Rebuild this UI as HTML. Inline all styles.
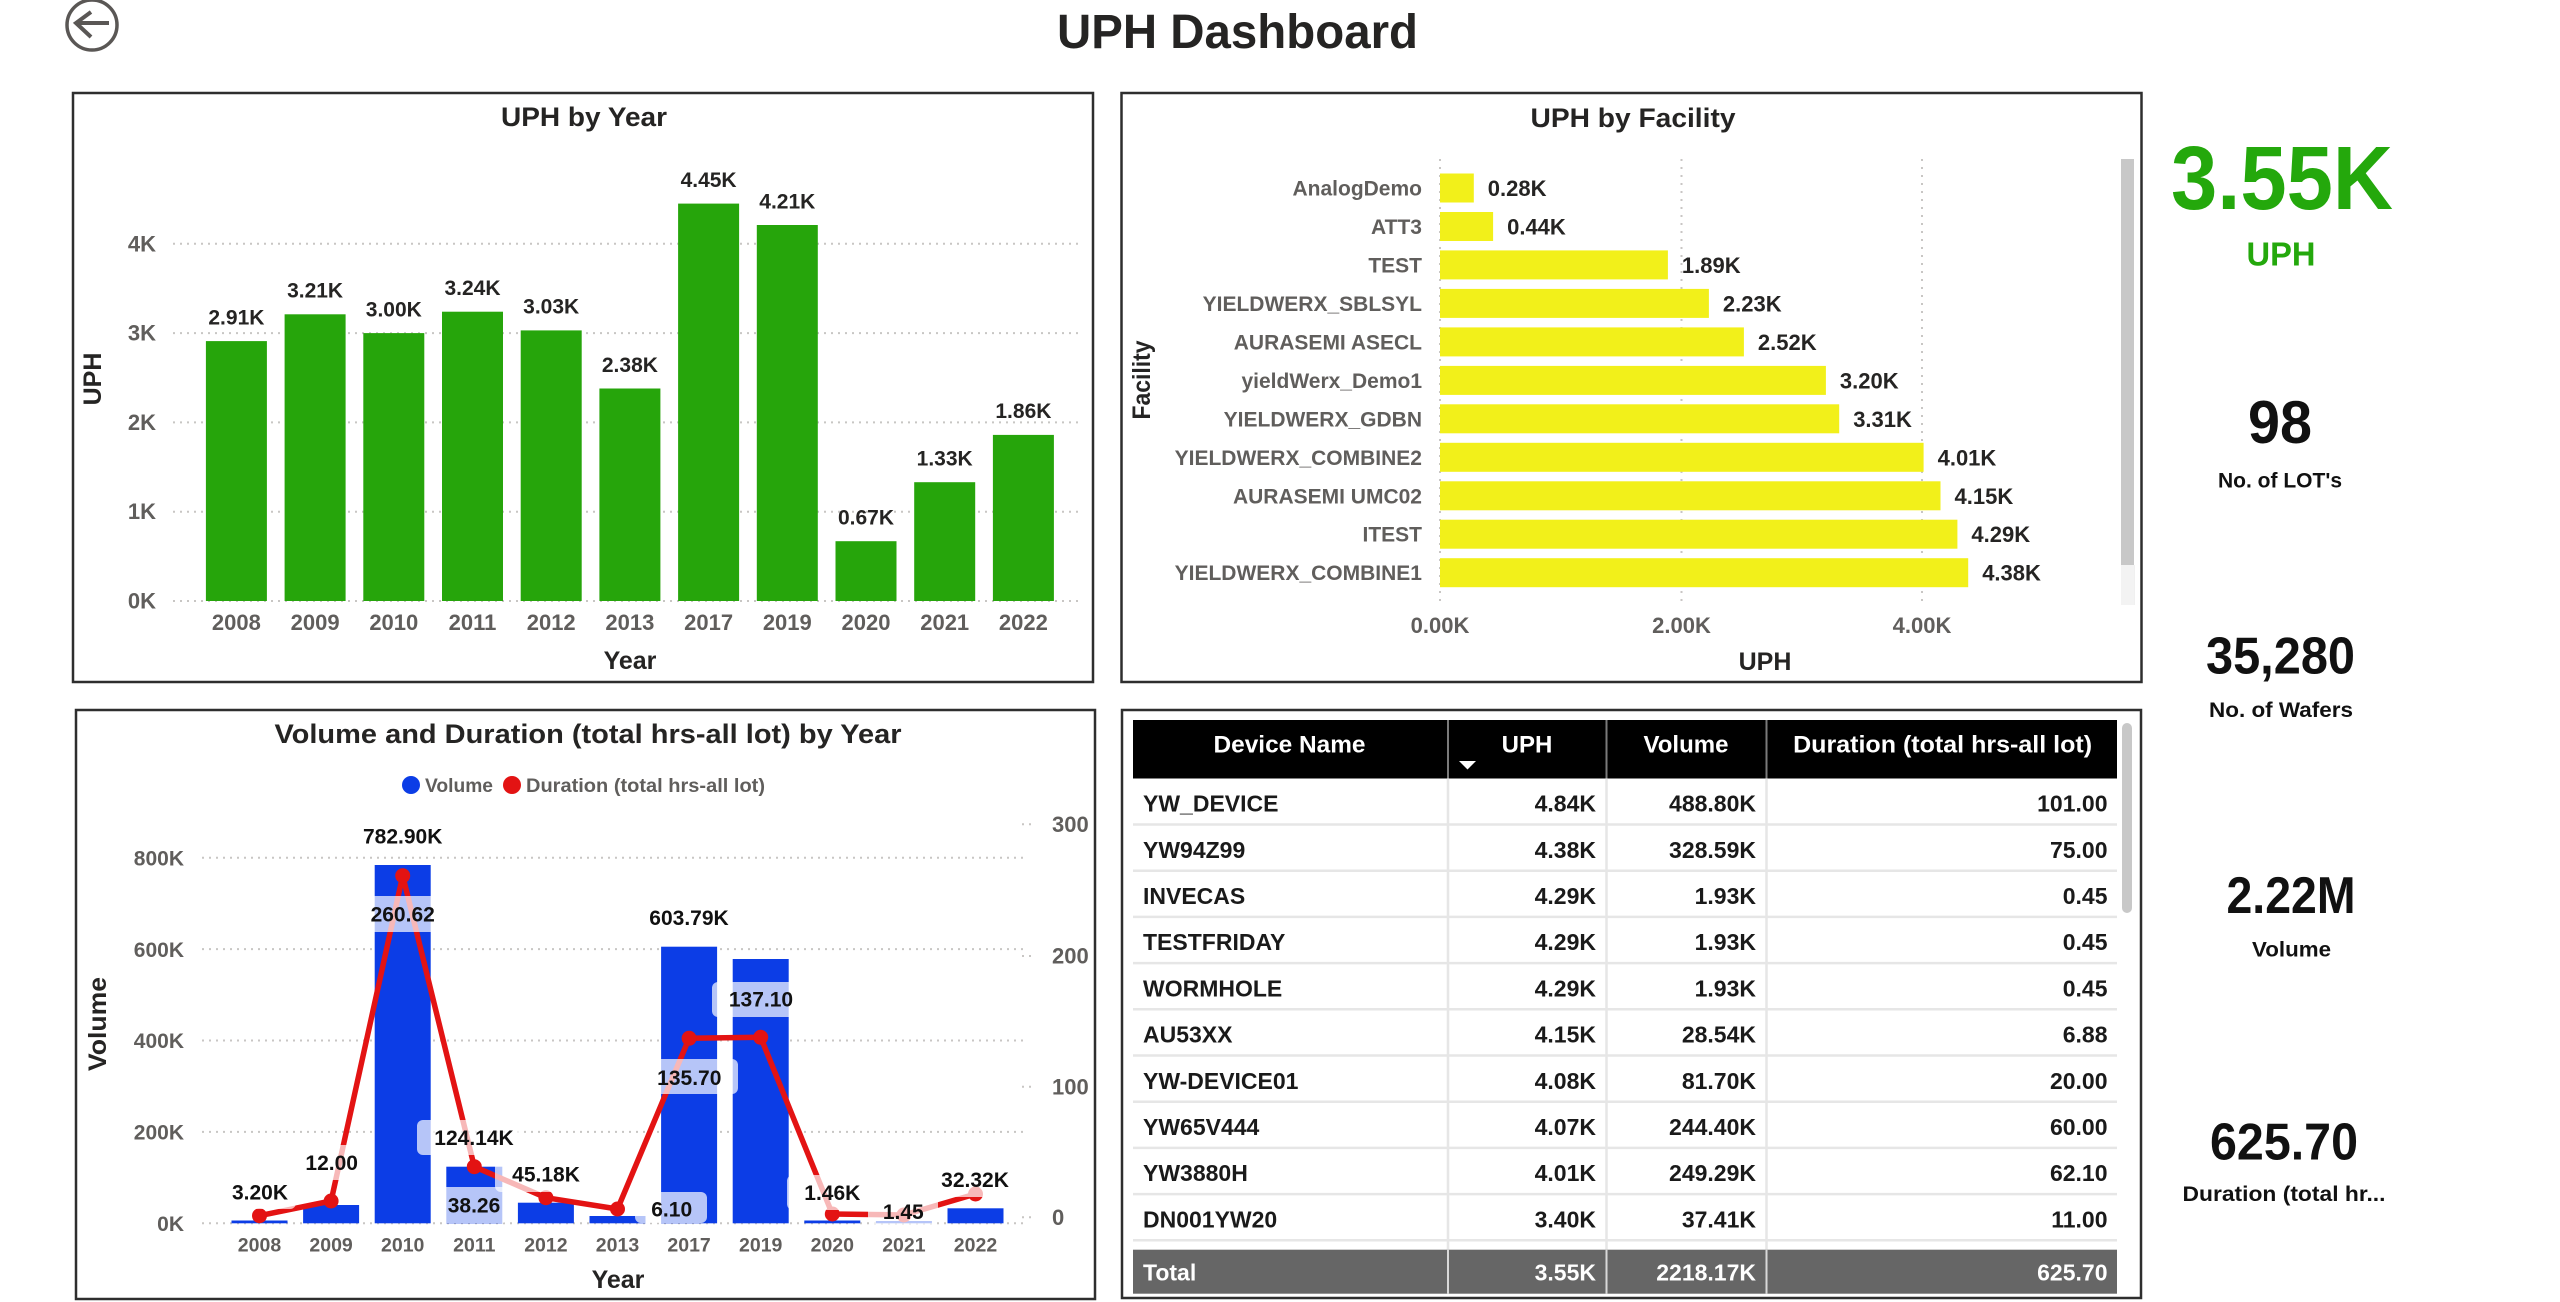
<!DOCTYPE html>
<html><head><meta charset="utf-8"><style>
html,body{margin:0;padding:0;background:#fff;width:2560px;height:1302px;overflow:hidden}
svg{display:block;font-family:"Liberation Sans",sans-serif;font-weight:bold}
.tk{fill:#605e5c;font-size:22px}
.vl{fill:#252423;font-size:21px}
.ttl{fill:#252423;font-size:27px}
.ax{fill:#252423;font-size:25px}
.grid{stroke:#c8c6c4;stroke-width:2;stroke-dasharray:2 5}
.pn{fill:none;stroke:#2e2e2e;stroke-width:2.5}
.th{fill:#fff;font-size:24px}
.tb{fill:#1a1a1a;font-size:23px}
.tt{fill:#fff;font-size:23px}
.kl{fill:#111;font-size:21px}
</style></head><body>
<svg width="2560" height="1302" viewBox="0 0 2560 1302" xmlns="http://www.w3.org/2000/svg">
<!-- back icon -->
<circle cx="92" cy="25" r="25" fill="none" stroke="#5a5755" stroke-width="3.5"/>
<line x1="76" y1="23" x2="109" y2="23" stroke="#5a5755" stroke-width="4"/>
<polyline points="91,12 76,23 91,37" fill="none" stroke="#5a5755" stroke-width="4"/>
<text x="1057" y="48" style="font-size:48px;fill:#252423" textLength="361" lengthAdjust="spacingAndGlyphs">UPH Dashboard</text>

<!-- Panels -->
<rect class="pn" x="73" y="93" width="1020" height="589"/>
<rect class="pn" x="1121.5" y="93" width="1020" height="589"/>
<rect class="pn" x="76" y="710" width="1019" height="589"/>
<rect class="pn" x="1122" y="710" width="1019" height="588"/>

<!-- ===== Panel 1 : UPH by Year ===== -->
<text class="ttl" x="584" y="126" text-anchor="middle" textLength="166" lengthAdjust="spacingAndGlyphs">UPH by Year</text>
<g>
<line class="grid" x1="173" y1="601" x2="1080" y2="601"/>
<line class="grid" x1="173" y1="511.7" x2="1080" y2="511.7"/>
<line class="grid" x1="173" y1="422.4" x2="1080" y2="422.4"/>
<line class="grid" x1="173" y1="333.1" x2="1080" y2="333.1"/>
<line class="grid" x1="173" y1="243.8" x2="1080" y2="243.8"/>
</g>
<g class="tk" text-anchor="end">
<text x="156" y="608.5">0K</text>
<text x="156" y="519.2">1K</text>
<text x="156" y="429.9">2K</text>
<text x="156" y="340.6">3K</text>
<text x="156" y="251.3">4K</text>
</g>
<g fill="#26a50b">
<rect x="205.9" y="341.1" width="61" height="259.9"/>
<rect x="284.6" y="314.3" width="61" height="286.7"/>
<rect x="363.3" y="333.1" width="61" height="267.9"/>
<rect x="442" y="311.7" width="61" height="289.3"/>
<rect x="520.7" y="330.4" width="61" height="270.6"/>
<rect x="599.4" y="388.5" width="61" height="212.5"/>
<rect x="678.1" y="203.6" width="61" height="397.4"/>
<rect x="756.8" y="225" width="61" height="376"/>
<rect x="835.5" y="541.2" width="61" height="59.8"/>
<rect x="914.2" y="482.2" width="61" height="118.8"/>
<rect x="992.9" y="434.9" width="61" height="166.1"/>
</g>
<g class="vl" text-anchor="middle">
<text x="236.4" y="324.4">2.91K</text>
<text x="315.1" y="297.6">3.21K</text>
<text x="393.8" y="316.4">3.00K</text>
<text x="472.5" y="295">3.24K</text>
<text x="551.2" y="313.7">3.03K</text>
<text x="629.9" y="371.8">2.38K</text>
<text x="708.6" y="186.9">4.45K</text>
<text x="787.3" y="208.3">4.21K</text>
<text x="866" y="524.5">0.67K</text>
<text x="944.7" y="465.5">1.33K</text>
<text x="1023.4" y="418.2">1.86K</text>
</g>
<g class="tk" text-anchor="middle">
<text x="236.4" y="630">2008</text>
<text x="315.1" y="630">2009</text>
<text x="393.8" y="630">2010</text>
<text x="472.5" y="630">2011</text>
<text x="551.2" y="630">2012</text>
<text x="629.9" y="630">2013</text>
<text x="708.6" y="630">2017</text>
<text x="787.3" y="630">2019</text>
<text x="866" y="630">2020</text>
<text x="944.7" y="630">2021</text>
<text x="1023.4" y="630">2022</text>
</g>
<text class="ax" x="630" y="669" text-anchor="middle">Year</text>
<text class="ax" transform="translate(101,379) rotate(-90)" text-anchor="middle">UPH</text>

<!-- ===== Panel 2 : UPH by Facility ===== -->
<text class="ttl" x="1633" y="127" text-anchor="middle" textLength="205" lengthAdjust="spacingAndGlyphs">UPH by Facility</text>
<line class="grid" x1="1440" y1="159" x2="1440" y2="606" style="stroke-dasharray:2 6"/>
<line class="grid" x1="1681.5" y1="159" x2="1681.5" y2="606" style="stroke-dasharray:2 6"/>
<line class="grid" x1="1922" y1="159" x2="1922" y2="606" style="stroke-dasharray:2 6"/>
<g fill="#f2f01a">
<rect x="1440" y="173.5" width="33.8" height="29"/>
<rect x="1440" y="212" width="53.1" height="29"/>
<rect x="1440" y="250.4" width="227.9" height="29"/>
<rect x="1440" y="288.9" width="268.9" height="29"/>
<rect x="1440" y="327.4" width="303.9" height="29"/>
<rect x="1440" y="365.9" width="385.9" height="29"/>
<rect x="1440" y="404.3" width="399.2" height="29"/>
<rect x="1440" y="442.8" width="483.6" height="29"/>
<rect x="1440" y="481.3" width="500.5" height="29"/>
<rect x="1440" y="519.7" width="517.4" height="29"/>
<rect x="1440" y="558.2" width="528.2" height="29"/>
</g>
<g class="tk" text-anchor="end" style="font-size:21px">
<text x="1422" y="195.5">AnalogDemo</text>
<text x="1422" y="234">ATT3</text>
<text x="1422" y="272.4">TEST</text>
<text x="1422" y="310.9">YIELDWERX_SBLSYL</text>
<text x="1422" y="349.4">AURASEMI ASECL</text>
<text x="1422" y="387.9">yieldWerx_Demo1</text>
<text x="1422" y="426.3">YIELDWERX_GDBN</text>
<text x="1422" y="464.8">YIELDWERX_COMBINE2</text>
<text x="1422" y="503.3">AURASEMI UMC02</text>
<text x="1422" y="541.7">ITEST</text>
<text x="1422" y="580.2">YIELDWERX_COMBINE1</text>
</g>
<g class="vl" style="font-size:22px">
<text x="1487.8" y="196">0.28K</text>
<text x="1507.1" y="234.5">0.44K</text>
<text x="1681.9" y="272.9">1.89K</text>
<text x="1722.9" y="311.4">2.23K</text>
<text x="1757.9" y="349.9">2.52K</text>
<text x="1839.9" y="388.4">3.20K</text>
<text x="1853.2" y="426.8">3.31K</text>
<text x="1937.6" y="465.3">4.01K</text>
<text x="1954.5" y="503.8">4.15K</text>
<text x="1971.4" y="542.2">4.29K</text>
<text x="1982.2" y="580.7">4.38K</text>
</g>
<g class="tk" text-anchor="middle">
<text x="1440" y="633">0.00K</text>
<text x="1681.5" y="633">2.00K</text>
<text x="1922" y="633">4.00K</text>
</g>
<text class="ax" x="1765" y="670" text-anchor="middle">UPH</text>
<text class="ax" transform="translate(1150,380) rotate(-90)" text-anchor="middle" textLength="79" lengthAdjust="spacingAndGlyphs">Facility</text>
<rect x="2134" y="565" width="1" height="40" fill="#f0f0f0"/>
<rect x="2121" y="565" width="13" height="40" fill="#f3f3f3"/>
<rect x="2121" y="159" width="13" height="406" fill="#c8c8c8"/>

<!-- ===== KPIs ===== -->
<text x="2282" y="209" text-anchor="middle" style="font-size:90px;fill:#24a80c" textLength="222" lengthAdjust="spacingAndGlyphs">3.55K</text>
<text x="2281" y="265.7" text-anchor="middle" style="font-size:33px;fill:#24a80c" textLength="69" lengthAdjust="spacingAndGlyphs">UPH</text>
<text x="2280" y="443" text-anchor="middle" style="font-size:60px;fill:#111" textLength="64" lengthAdjust="spacingAndGlyphs">98</text>
<text class="kl" x="2280" y="487.7" text-anchor="middle" textLength="124" lengthAdjust="spacingAndGlyphs">No. of LOT's</text>
<text x="2280.5" y="673.5" text-anchor="middle" style="font-size:52px;fill:#111" textLength="149" lengthAdjust="spacingAndGlyphs">35,280</text>
<text class="kl" x="2281" y="717" text-anchor="middle" textLength="144" lengthAdjust="spacingAndGlyphs">No. of Wafers</text>
<text x="2291" y="913" text-anchor="middle" style="font-size:52px;fill:#111" textLength="129" lengthAdjust="spacingAndGlyphs">2.22M</text>
<text class="kl" x="2291.5" y="956.5" text-anchor="middle" textLength="79" lengthAdjust="spacingAndGlyphs">Volume</text>
<text x="2284" y="1159.5" text-anchor="middle" style="font-size:52px;fill:#111" textLength="148" lengthAdjust="spacingAndGlyphs">625.70</text>
<text class="kl" x="2284" y="1201" text-anchor="middle" textLength="203" lengthAdjust="spacingAndGlyphs">Duration (total hr...</text>

<!-- ===== Panel 3 : Volume and Duration ===== -->
<text class="ttl" x="588" y="743" text-anchor="middle" textLength="627" lengthAdjust="spacingAndGlyphs">Volume and Duration (total hrs-all lot) by Year</text>
<circle cx="411" cy="785" r="9" fill="#0c3de6"/>
<text x="425" y="792" style="font-size:19px;fill:#605e5c" textLength="68" lengthAdjust="spacingAndGlyphs">Volume</text>
<circle cx="512" cy="785" r="9" fill="#e31313"/>
<text x="526" y="792" style="font-size:19px;fill:#605e5c" textLength="239" lengthAdjust="spacingAndGlyphs">Duration (total hrs-all lot)</text>
<g>
<line class="grid" x1="202" y1="1223.3" x2="1028" y2="1223.3"/>
<line class="grid" x1="202" y1="1131.9" x2="1028" y2="1131.9"/>
<line class="grid" x1="202" y1="1040.5" x2="1028" y2="1040.5"/>
<line class="grid" x1="202" y1="949.1" x2="1028" y2="949.1"/>
<line class="grid" x1="202" y1="857.7" x2="1028" y2="857.7"/>
<line class="grid" x1="1022" y1="1217.3" x2="1036" y2="1217.3"/>
<line class="grid" x1="1022" y1="1086.7" x2="1036" y2="1086.7"/>
<line class="grid" x1="1022" y1="956" x2="1036" y2="956"/>
<line class="grid" x1="1022" y1="824.3" x2="1036" y2="824.3"/>
</g>
<g class="tk" text-anchor="end" style="font-size:21px">
<text x="184" y="1231">0K</text>
<text x="184" y="1139.6">200K</text>
<text x="184" y="1048.2">400K</text>
<text x="184" y="956.8">600K</text>
<text x="184" y="865.4">800K</text>
</g>
<g class="tk">
<text x="1052" y="1225">0</text>
<text x="1052" y="1094.4">100</text>
<text x="1052" y="963.7">200</text>
<text x="1052" y="832">300</text>
</g>
<g fill="#0c3de6">
<rect x="231.5" y="1220.5" width="56" height="2.8"/>
<rect x="303.1" y="1205" width="56" height="18.3"/>
<rect x="374.7" y="865" width="56" height="358.3"/>
<rect x="446.3" y="1166.7" width="56" height="56.6"/>
<rect x="517.9" y="1202.7" width="56" height="20.6"/>
<rect x="589.5" y="1216" width="56" height="7.3"/>
<rect x="661.1" y="946.7" width="56" height="276.6"/>
<rect x="732.7" y="959" width="56" height="264.3"/>
<rect x="804.3" y="1220.5" width="56" height="2.8"/>
<rect x="875.9" y="1221" width="56" height="2.3"/>
<rect x="947.5" y="1208.3" width="56" height="15"/>
</g>
<polyline points="259.5,1215.7 331.1,1201 402.7,875.7 474.3,1166.7 545.9,1197.7 617.5,1209 689.1,1038.3 760.7,1037.3 832.3,1214 903.9,1215 975.5,1194" fill="none" stroke="#e31313" stroke-width="5.5" stroke-linejoin="round"/>
<g fill="#e31313">
<circle cx="259.5" cy="1215.7" r="7.5"/>
<circle cx="331.1" cy="1201" r="7.5"/>
<circle cx="402.7" cy="875.7" r="7.5"/>
<circle cx="474.3" cy="1166.7" r="7.5"/>
<circle cx="545.9" cy="1197.7" r="7.5"/>
<circle cx="617.5" cy="1209" r="7.5"/>
<circle cx="689.1" cy="1038.3" r="7.5"/>
<circle cx="760.7" cy="1037.3" r="7.5"/>
<circle cx="832.3" cy="1214" r="7.5"/>
<circle cx="903.9" cy="1215" r="7.5"/>
<circle cx="975.5" cy="1194" r="7.5"/>
</g>
<g fill="#fff" fill-opacity="0.7">
<rect x="224" y="1175" width="72" height="34" rx="6"/>
<rect x="300" y="1145" width="64" height="35" rx="6"/>
<rect x="360" y="896" width="86" height="36" rx="6"/>
<rect x="417" y="1120" width="106" height="35" rx="6"/>
<rect x="440" y="1187" width="68" height="36" rx="6"/>
<rect x="495" y="1157" width="102" height="35" rx="6"/>
<rect x="635" y="1192" width="72" height="31" rx="6"/>
<rect x="640" y="1059" width="98" height="35" rx="6"/>
<rect x="712" y="982" width="98" height="35" rx="6"/>
<rect x="787" y="1175" width="91" height="35" rx="6"/>
<rect x="868" y="1194" width="70" height="30" rx="6"/>
<rect x="930" y="1162" width="90" height="35" rx="6"/>
</g>
<g class="vl" text-anchor="middle" style="fill:#111">
<text x="260" y="1199.5">3.20K</text>
<text x="331.7" y="1170.2">12.00</text>
<text x="402.7" y="843.5">782.90K</text>
<text x="402.7" y="921.5">260.62</text>
<text x="474" y="1145.2">124.14K</text>
<text x="474" y="1212.5">38.26</text>
<text x="546" y="1181.5">45.18K</text>
<text x="671.7" y="1216.5">6.10</text>
<text x="689" y="925.2">603.79K</text>
<text x="689.3" y="1084.8">135.70</text>
<text x="761" y="1006.5">137.10</text>
<text x="832.3" y="1199.8">1.46K</text>
<text x="903.3" y="1219.2">1.45</text>
<text x="975" y="1186.8">32.32K</text>
</g>
<g class="tk" text-anchor="middle" style="font-size:19.5px">
<text x="259.5" y="1251.5">2008</text>
<text x="331.1" y="1251.5">2009</text>
<text x="402.7" y="1251.5">2010</text>
<text x="474.3" y="1251.5">2011</text>
<text x="545.9" y="1251.5">2012</text>
<text x="617.5" y="1251.5">2013</text>
<text x="689.1" y="1251.5">2017</text>
<text x="760.7" y="1251.5">2019</text>
<text x="832.3" y="1251.5">2020</text>
<text x="903.9" y="1251.5">2021</text>
<text x="975.5" y="1251.5">2022</text>
</g>
<text class="ax" x="618" y="1288" text-anchor="middle">Year</text>
<text class="ax" transform="translate(106,1024) rotate(-90)" text-anchor="middle" textLength="94" lengthAdjust="spacingAndGlyphs">Volume</text>

<!-- ===== Panel 4 : Table ===== -->
<rect x="1133" y="720" width="984" height="58.5" fill="#000"/>
<g stroke="#7a7a7a" stroke-width="2">
<line x1="1448" y1="720" x2="1448" y2="778.5"/>
<line x1="1606.5" y1="720" x2="1606.5" y2="778.5"/>
<line x1="1766.5" y1="720" x2="1766.5" y2="778.5"/>
</g>
<g class="th" text-anchor="middle">
<text x="1289.5" y="752.5" textLength="152" lengthAdjust="spacingAndGlyphs">Device Name</text>
<text x="1527" y="752.5">UPH</text>
<text x="1686" y="752.5">Volume</text>
<text x="1942.6" y="752.5" textLength="299" lengthAdjust="spacingAndGlyphs">Duration (total hrs-all lot)</text>
</g>
<polygon points="1459,761 1476,761 1467.5,769.5" fill="#fff"/>
<g stroke="#e6e6e6" stroke-width="2.5">
<line x1="1448" y1="779" x2="1448" y2="1250"/>
<line x1="1606.5" y1="779" x2="1606.5" y2="1250"/>
<line x1="1766.5" y1="779" x2="1766.5" y2="1250"/>
<line x1="1133" y1="824.5" x2="2117" y2="824.5"/>
<line x1="1133" y1="870.7" x2="2117" y2="870.7"/>
<line x1="1133" y1="916.9" x2="2117" y2="916.9"/>
<line x1="1133" y1="963.1" x2="2117" y2="963.1"/>
<line x1="1133" y1="1009.3" x2="2117" y2="1009.3"/>
<line x1="1133" y1="1055.5" x2="2117" y2="1055.5"/>
<line x1="1133" y1="1101.7" x2="2117" y2="1101.7"/>
<line x1="1133" y1="1147.9" x2="2117" y2="1147.9"/>
<line x1="1133" y1="1194.1" x2="2117" y2="1194.1"/>
<line x1="1133" y1="1240.3" x2="2117" y2="1240.3"/>
</g>
<g class="tb">
<text x="1143" y="811.6">YW_DEVICE</text>
<text x="1143" y="857.8">YW94Z99</text>
<text x="1143" y="904">INVECAS</text>
<text x="1143" y="950.2">TESTFRIDAY</text>
<text x="1143" y="996.4">WORMHOLE</text>
<text x="1143" y="1042.6">AU53XX</text>
<text x="1143" y="1088.8">YW-DEVICE01</text>
<text x="1143" y="1135">YW65V444</text>
<text x="1143" y="1181.2">YW3880H</text>
<text x="1143" y="1227.4">DN001YW20</text>
</g>
<g class="tb" text-anchor="end">
<text x="1596" y="811.6">4.84K</text>
<text x="1596" y="857.8">4.38K</text>
<text x="1596" y="904">4.29K</text>
<text x="1596" y="950.2">4.29K</text>
<text x="1596" y="996.4">4.29K</text>
<text x="1596" y="1042.6">4.15K</text>
<text x="1596" y="1088.8">4.08K</text>
<text x="1596" y="1135">4.07K</text>
<text x="1596" y="1181.2">4.01K</text>
<text x="1596" y="1227.4">3.40K</text>
<text x="1756" y="811.6">488.80K</text>
<text x="1756" y="857.8">328.59K</text>
<text x="1756" y="904">1.93K</text>
<text x="1756" y="950.2">1.93K</text>
<text x="1756" y="996.4">1.93K</text>
<text x="1756" y="1042.6">28.54K</text>
<text x="1756" y="1088.8">81.70K</text>
<text x="1756" y="1135">244.40K</text>
<text x="1756" y="1181.2">249.29K</text>
<text x="1756" y="1227.4">37.41K</text>
<text x="2107.5" y="811.6">101.00</text>
<text x="2107.5" y="857.8">75.00</text>
<text x="2107.5" y="904">0.45</text>
<text x="2107.5" y="950.2">0.45</text>
<text x="2107.5" y="996.4">0.45</text>
<text x="2107.5" y="1042.6">6.88</text>
<text x="2107.5" y="1088.8">20.00</text>
<text x="2107.5" y="1135">60.00</text>
<text x="2107.5" y="1181.2">62.10</text>
<text x="2107.5" y="1227.4">11.00</text>
</g>
<rect x="1133" y="1249.7" width="984" height="44" fill="#666666"/>
<g stroke="#d9d9d9" stroke-width="2">
<line x1="1448" y1="1249.7" x2="1448" y2="1293.7"/>
<line x1="1606.5" y1="1249.7" x2="1606.5" y2="1293.7"/>
<line x1="1766.5" y1="1249.7" x2="1766.5" y2="1293.7"/>
</g>
<g class="tt">
<text x="1143" y="1280.7">Total</text>
<text x="1596" y="1280.7" text-anchor="end">3.55K</text>
<text x="1756" y="1280.7" text-anchor="end">2218.17K</text>
<text x="2107.5" y="1280.7" text-anchor="end">625.70</text>
</g>
<rect x="2122" y="723" width="10" height="190" rx="5" fill="#c8c8c8"/>
</svg>
</body></html>
